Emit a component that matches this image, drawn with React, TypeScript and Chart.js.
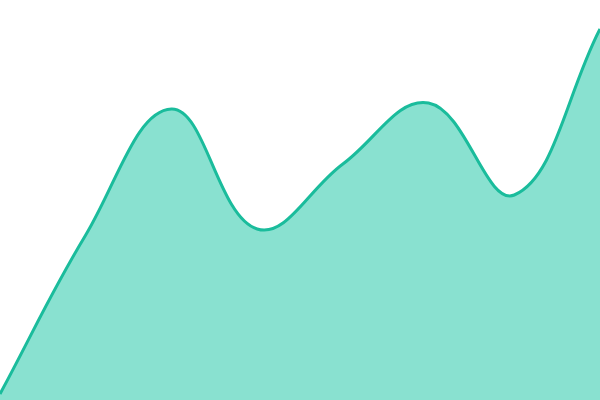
import { useEffect, useRef } from 'react'
import { Chart, registerables } from 'chart.js'

Chart.register(...registerables)

const categories = ['1', '2', '3', '4', '5', '6', '7', '8']
const seriesValues = [6, 165, 291, 171, 236, 297, 205, 371]

export default function App() {
  const chartRef = useRef<HTMLCanvasElement>(null)
  const chartInstance = useRef<Chart | null>(null)

  useEffect(() => {
    if (!chartRef.current) return
    if (chartInstance.current) chartInstance.current.destroy()
    const ctx = chartRef.current.getContext('2d')
    if (!ctx) return

    chartInstance.current = new Chart(ctx, {
      type: 'line',
      data: {
        labels: categories,
        datasets: [
          {
            data: seriesValues,
            borderColor: '#1abc9c',
            backgroundColor: 'rgba(20, 196, 162, 0.5)',
            borderWidth: 3,
            fill: 'origin',
            tension: 0.4,
            pointRadius: 0,
          },
        ],
      },
      options: {
        animation: false,
        responsive: true,
        maintainAspectRatio: false,
        layout: { padding: 0 },
        plugins: {
          legend: { display: false },
          tooltip: { enabled: false },
        },
        scales: {
          x: { display: false, offset: false },
          y: { display: false, min: 0, max: 400 },
        },
      },
    })

    return () => {
      if (chartInstance.current) {
        chartInstance.current.destroy()
        chartInstance.current = null
      }
    }
  }, [])

  return (
    <div style={{ position: 'fixed', top: 0, left: 0, width: 600, height: 400, background: '#fff' }}>
      <canvas ref={chartRef} />
    </div>
  )
}
